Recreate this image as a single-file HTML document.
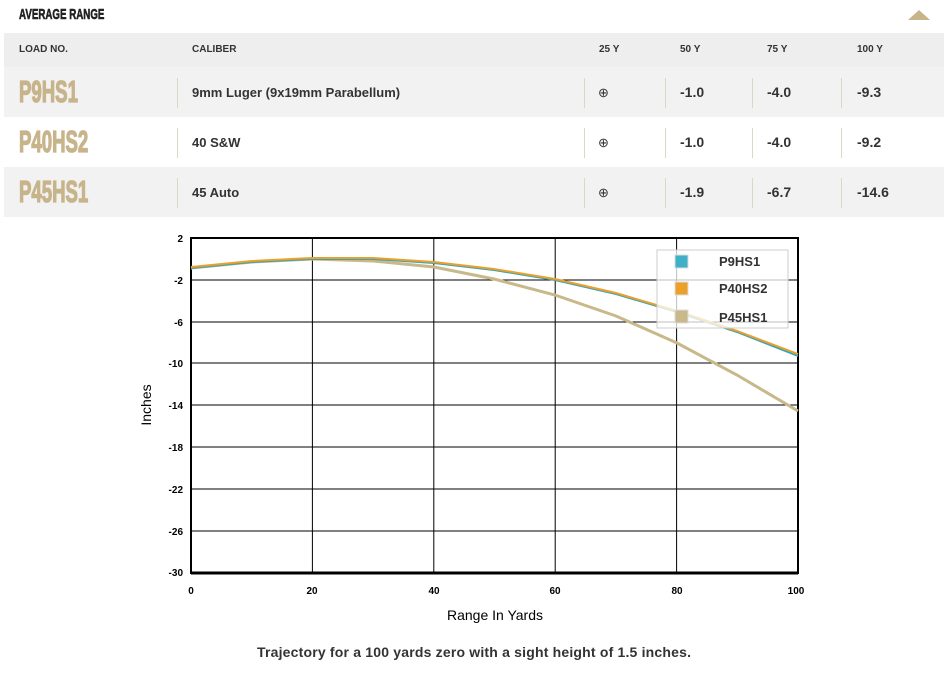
<!DOCTYPE html>
<html><head><meta charset="utf-8"><style>
body{margin:0;width:949px;height:673px;background:#fff;font-family:"Liberation Sans",sans-serif;position:relative;overflow:hidden}
.a{position:absolute;white-space:nowrap}
.title{left:19px;top:6px;font-family:"Liberation Sans",sans-serif;font-weight:bold;font-size:15px;color:#222;transform:scaleX(.65);transform-origin:left;-webkit-text-stroke:.6px #222}
.row{position:absolute;left:4px;width:940px}
.h{font-size:10px;font-weight:bold;color:#333;top:44px}
.load{font-family:"Liberation Sans",sans-serif;font-weight:bold;font-size:31px;color:#c8b48a;transform:scaleX(.6);transform-origin:left;-webkit-text-stroke:1.3px #c8b48a}
.v{font-size:14px;font-weight:bold;color:#333}
.sep{position:absolute;width:1px;height:30px;background:#ddd6c8}
</style></head><body>
<div class="a title">AVERAGE RANGE</div>
<div class="a" style="left:908px;top:10px;width:0;height:0;border-left:11px solid transparent;border-right:11px solid transparent;border-bottom:10px solid #c8b48a"></div>
<div class="row" style="top:33px;height:34px;background:#eeeeee"></div>
<div class="row" style="top:67px;height:50px;background:#f2f2f2"></div>
<div class="row" style="top:167px;height:50px;background:#f2f2f2"></div>
<div class="a h" style="left:19px">LOAD NO.</div>
<div class="a h" style="left:192px">CALIBER</div>
<div class="a h" style="left:599px">25 Y</div>
<div class="a h" style="left:680px">50 Y</div>
<div class="a h" style="left:767px">75 Y</div>
<div class="a h" style="left:857px">100 Y</div>

<div class="a load" style="left:19px;top:74px">P9HS1</div>
<div class="a load" style="left:19px;top:124px">P40HS2</div>
<div class="a load" style="left:19px;top:174px">P45HS1</div>

<div class="sep" style="left:177px;top:78px"></div><div class="sep" style="left:584px;top:78px"></div><div class="sep" style="left:665px;top:78px"></div><div class="sep" style="left:752px;top:78px"></div><div class="sep" style="left:841px;top:78px"></div>
<div class="sep" style="left:177px;top:128px"></div><div class="sep" style="left:584px;top:128px"></div><div class="sep" style="left:665px;top:128px"></div><div class="sep" style="left:752px;top:128px"></div><div class="sep" style="left:841px;top:128px"></div>
<div class="sep" style="left:177px;top:178px"></div><div class="sep" style="left:584px;top:178px"></div><div class="sep" style="left:665px;top:178px"></div><div class="sep" style="left:752px;top:178px"></div><div class="sep" style="left:841px;top:178px"></div>

<div class="a v" style="left:192px;top:85px;font-size:13px">9mm Luger (9x19mm Parabellum)</div>
<div class="a v" style="left:192px;top:135px;font-size:13px">40 S&amp;W</div>
<div class="a v" style="left:192px;top:185px;font-size:13px">45 Auto</div>
<div class="a v" style="left:598px;top:85px;font-size:13px;font-weight:normal">⊕</div>
<div class="a v" style="left:598px;top:135px;font-size:13px;font-weight:normal">⊕</div>
<div class="a v" style="left:598px;top:185px;font-size:13px;font-weight:normal">⊕</div>
<div class="a v" style="left:680px;top:84px">-1.0</div><div class="a v" style="left:767px;top:84px">-4.0</div><div class="a v" style="left:857px;top:84px">-9.3</div>
<div class="a v" style="left:680px;top:134px">-1.0</div><div class="a v" style="left:767px;top:134px">-4.0</div><div class="a v" style="left:857px;top:134px">-9.2</div>
<div class="a v" style="left:680px;top:184px">-1.9</div><div class="a v" style="left:767px;top:184px">-6.7</div><div class="a v" style="left:857px;top:184px">-14.6</div>

<svg class="a" style="left:0;top:0" width="949" height="673">
<g stroke="#000" stroke-width="1">
<line x1="191" x2="798" y1="280" y2="280"/><line x1="191" x2="798" y1="322" y2="322"/><line x1="191" x2="798" y1="363" y2="363"/><line x1="191" x2="798" y1="405" y2="405"/><line x1="191" x2="798" y1="447" y2="447"/><line x1="191" x2="798" y1="489" y2="489"/><line x1="191" x2="798" y1="531" y2="531"/>
<line x1="312.4" x2="312.4" y1="238" y2="573"/><line x1="433.8" x2="433.8" y1="238" y2="573"/><line x1="555.2" x2="555.2" y1="238" y2="573"/><line x1="676.6" x2="676.6" y1="238" y2="573"/>
</g>
<rect x="191" y="238" width="607" height="335" fill="none" stroke="#000" stroke-width="2"/>
<line x1="191" x2="798" y1="573" y2="573" stroke="#000" stroke-width="3"/>
<g font-size="10" font-weight="bold" text-anchor="end">
<text x="183" y="242">2</text><text x="183" y="284">-2</text><text x="183" y="326">-6</text><text x="183" y="367">-10</text><text x="183" y="409">-14</text><text x="183" y="451">-18</text><text x="183" y="493">-22</text><text x="183" y="535">-26</text><text x="183" y="576">-30</text>
</g>
<g font-size="10" font-weight="bold" text-anchor="middle">
<text x="191" y="594">0</text><text x="312" y="594">20</text><text x="434" y="594">40</text><text x="555" y="594">60</text><text x="677" y="594">80</text><text x="796" y="594">100</text>
</g>
<text x="495" y="620" font-size="14" text-anchor="middle">Range In Yards</text>
<text transform="translate(151,405) rotate(-90)" font-size="14" text-anchor="middle">Inches</text>
<polyline fill="none" stroke="#c8b88a" stroke-width="3" points="191,268 252,262 312,259 373,261 434,267 494,279 555,295 616,316 677,343 737,375 798,411"/>
<polyline fill="none" stroke="#3aa3b8" stroke-width="2" points="191,268 252,262 312,259 373,259 434,263 494,270 555,280 616,294 677,312 737,332 798,356"/>
<polyline fill="none" stroke="#eba02a" stroke-width="2" points="191,267 252,261 312,258 373,258 434,262 494,269 555,279 616,293 677,311 737,331 798,354"/>
<rect x="657" y="250" width="131" height="78" fill="#fff" fill-opacity=".75" stroke="#ccc"/>
<rect x="675" y="255" width="13" height="13" fill="#3fb0c8" stroke="#ddd"/>
<rect x="675" y="282" width="13" height="13" fill="#eba02a" stroke="#ddd"/>
<rect x="675" y="310" width="13" height="13" fill="#c8b88a" stroke="#ddd"/>
<g font-size="13" font-weight="bold" fill="#333"><text x="719" y="266">P9HS1</text><text x="719" y="293">P40HS2</text><text x="719" y="322">P45HS1</text></g>
<text x="474" y="657" font-size="14" font-weight="bold" fill="#333" text-anchor="middle" textLength="434">Trajectory for a 100 yards zero with a sight height of 1.5 inches.</text>
</svg>
</body></html>
